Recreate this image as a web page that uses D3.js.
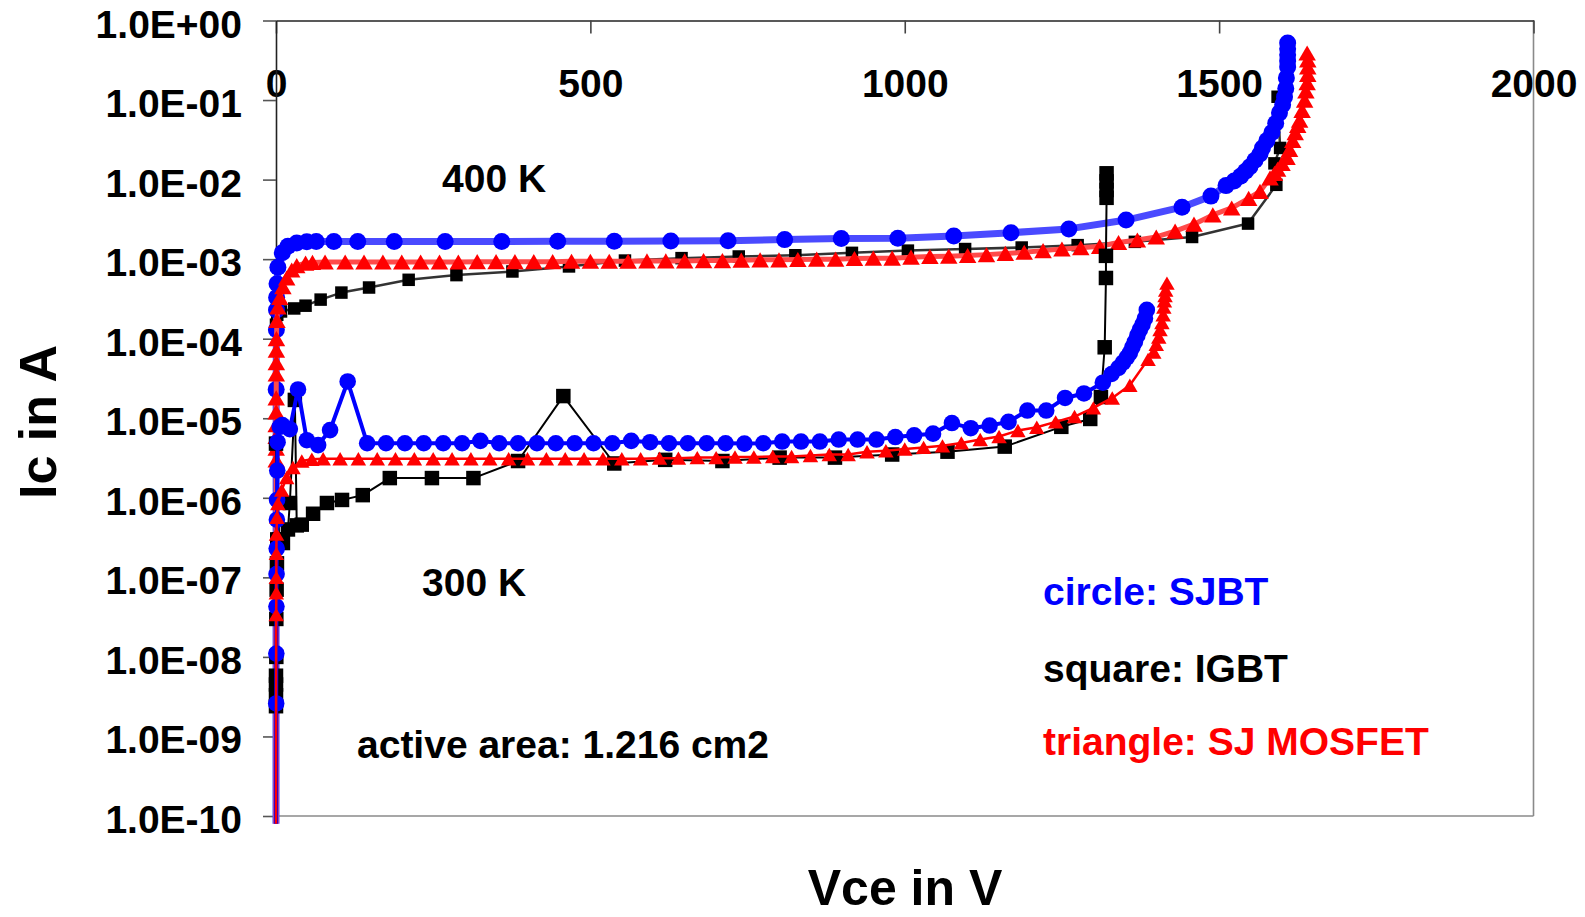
<!DOCTYPE html>
<html>
<head>
<meta charset="utf-8">
<script src="https://cdn.jsdelivr.net/npm/d3@7"></script>
<style>
  html, body { margin: 0; padding: 0; background: #fff; }
  svg { display: block; }
  text { font-family: "Liberation Sans", Arial, sans-serif; font-weight: bold; }
</style>
</head>
<body>
<svg id="chart" width="1585" height="917"></svg>
<script>
// ---------------- DATA ----------------
const xTicks = [0, 500, 1000, 1500, 2000];
const yTicks = [1, 1e-1, 1e-2, 1e-3, 1e-4, 1e-5, 1e-6, 1e-7, 1e-8, 1e-9, 1e-10];
const yTickLabels = ["1.0E+00","1.0E-01","1.0E-02","1.0E-03","1.0E-04","1.0E-05","1.0E-06","1.0E-07","1.0E-08","1.0E-09","1.0E-10"];

// [Vce (V), Ic (A)]
const sjbt400 = [[0,8e-11],[0.3,2.3e-5],[0.6,1.3e-4],[0.8,2.3e-4],[1,3.3e-4],[1.6,4.9e-4],[3,7.9e-4],[10,1.2e-3],[19,1.45e-3],[33,1.6e-3],[49,1.65e-3],[64,1.67e-3],[92,1.67e-3],[130,1.67e-3],[188,1.67e-3],[269,1.67e-3],[359,1.67e-3],[448,1.68e-3],[538,1.68e-3],[628,1.69e-3],[719,1.7e-3],[809,1.76e-3],[899,1.82e-3],[989,1.83e-3],[1078,1.95e-3],[1169,2.15e-3],[1261,2.4e-3],[1352,3.1e-3],[1441,4.5e-3],[1487,6.2e-3],[1511,8.4e-3],[1524,9.6e-3],[1534,1.1e-2],[1542,1.27e-2],[1549,1.45e-2],[1557,1.75e-2],[1565,2.1e-2],[1569,2.5e-2],[1576,3.1e-2],[1584,3.9e-2],[1590,5.1e-2],[1596,6.9e-2],[1601,8.7e-2],[1604,0.109],[1606,0.14],[1607,0.19],[1609,0.26],[1609,0.31],[1609,0.37],[1609,0.44],[1609,0.52]];

const mos400 = [[0,8e-11],[0.3,3.0e-6],[0.3,4.2e-6],[0.3,5.9e-6],[0.3,8.3e-6],[0.3,1.2e-5],[0.3,1.8e-5],[0.5,3.6e-5],[0.5,5e-5],[0.6,7.2e-5],[0.7,1.0e-4],[1.5,1.7e-4],[3,2.5e-4],[6,3.3e-4],[11,4.5e-4],[17,5.8e-4],[25,7.3e-4],[33,8.3e-4],[47,8.9e-4],[58,9.1e-4],[78,9.2e-4],[110,9.2e-4],[140,9.2e-4],[170,9.2e-4],[200,9.2e-4],[230,9.2e-4],[260,9.2e-4],[290,9.2e-4],[320,9.3e-4],[350,9.3e-4],[380,9.3e-4],[410,9.3e-4],[440,9.3e-4],[470,9.4e-4],[500,9.4e-4],[530,9.4e-4],[560,9.4e-4],[590,9.5e-4],[620,9.5e-4],[650,9.5e-4],[680,9.6e-4],[710,9.6e-4],[740,9.7e-4],[770,9.8e-4],[800,9.8e-4],[830,9.9e-4],[860,1.0e-3],[890,1.0e-3],[920,1.02e-3],[950,1.03e-3],[980,1.03e-3],[1010,1.06e-3],[1040,1.08e-3],[1070,1.09e-3],[1100,1.11e-3],[1130,1.14e-3],[1160,1.18e-3],[1190,1.22e-3],[1220,1.28e-3],[1250,1.34e-3],[1280,1.39e-3],[1310,1.45e-3],[1340,1.62e-3],[1370,1.74e-3],[1400,1.9e-3],[1430,2.25e-3],[1460,2.75e-3],[1490,3.6e-3],[1520,4.4e-3],[1547,5.8e-3],[1565,7.1e-3],[1581,1.05e-2],[1588,1.2e-2],[1593,1.35e-2],[1600,1.6e-2],[1608,1.9e-2],[1612,2.4e-2],[1617,3.1e-2],[1621,3.9e-2],[1625,4.8e-2],[1628,5.6e-2],[1632,7.4e-2],[1636,0.1],[1638,0.13],[1640,0.165],[1641,0.21],[1641,0.26],[1641,0.32],[1640,0.39]];

const igbt400 = [[0,1.5e-4],[2,2.0e-4],[8,2.2e-4],[29,2.4e-4],[47,2.6e-4],[71,3.1e-4],[104,3.8e-4],[148,4.4e-4],[211,5.5e-4],[287,6.3e-4],[376,7.0e-4],[466,8.1e-4],[555,9.6e-4],[645,1.03e-3],[736,1.08e-3],[826,1.12e-3],[916,1.2e-3],[1005,1.28e-3],[1096,1.34e-3],[1186,1.4e-3],[1275,1.5e-3],[1366,1.65e-3],[1457,1.9e-3],[1546,2.8e-3],[1591,8.6e-3],[1588,1.6e-2],[1597,2.5e-2],[1593,0.11]];

const sjbt300 = [[0,8e-11],[0.3,2.6e-9],[0.5,1.1e-8],[0.7,4.3e-8],[0.9,1.1e-7],[1.1,2.3e-7],[1.4,5.3e-7],[1.7,9.4e-7],[2,2.2e-6],[2.5,5e-6],[6,7.8e-6],[10,8.2e-6],[22,7.3e-6],[35,2.3e-5],[49,5.3e-6],[67,4.6e-6],[86,7.1e-6],[114,2.9e-5],[145,4.85e-6],[175,4.85e-6],[205,4.85e-6],[235,4.85e-6],[266,4.85e-6],[296,4.85e-6],[325,5.2e-6],[355,4.85e-6],[385,4.85e-6],[415,4.85e-6],[445,4.85e-6],[475,4.85e-6],[505,4.85e-6],[535,4.85e-6],[565,5.2e-6],[595,5.0e-6],[625,4.85e-6],[655,4.85e-6],[685,4.85e-6],[715,4.85e-6],[745,4.8e-6],[775,4.85e-6],[805,5.1e-6],[835,5.1e-6],[865,5.1e-6],[895,5.4e-6],[925,5.4e-6],[955,5.4e-6],[985,5.8e-6],[1015,6.1e-6],[1045,6.4e-6],[1075,8.7e-6],[1105,7.5e-6],[1135,8.1e-6],[1165,9.0e-6],[1195,1.25e-5],[1225,1.25e-5],[1255,1.8e-5],[1285,2.05e-5],[1315,2.8e-5],[1329,3.6e-5],[1340,4.3e-5],[1347,5.0e-5],[1353,5.8e-5],[1358,6.6e-5],[1362,7.8e-5],[1366,9.1e-5],[1370,1.1e-4],[1374,1.3e-4],[1378,1.5e-4],[1382,1.8e-4],[1385,2.3e-4]];

const igbt300 = [[0,2.4e-9],[0,3.3e-9],[0,4.5e-9],[0,5.8e-9],[0.5,1.0e-8],[0.5,3e-8],[1,7e-8],[1.5,1.5e-7],[2,3e-7],[0,4.8e-6],[5,3e-7],[11,2.7e-7],[19,4e-7],[22,8.6e-7],[30,1.7e-5],[33,4.5e-7],[41,4.6e-7],[59,6.3e-7],[81,8.6e-7],[105,9.4e-7],[138,1.08e-6],[181,1.77e-6],[248,1.77e-6],[314,1.77e-6],[385,2.9e-6],[457,1.9e-5],[538,2.7e-6],[619,3.0e-6],[710,2.9e-6],[801,3.2e-6],[889,3.2e-6],[980,3.5e-6],[1068,3.8e-6],[1159,4.4e-6],[1249,7.8e-6],[1295,9.8e-6],[1312,1.85e-5],[1318,7.8e-5],[1320,5.8e-4],[1320,1.1e-3],[1321,5.9e-3],[1321,7.4e-3],[1321,9.5e-3],[1321,1.2e-2]];

const mos300 = [[0,8e-11],[0.3,3.4e-8],[0.5,6.4e-8],[0.5,1.0e-7],[0.6,2.0e-7],[0.8,3.5e-7],[1.5,5.7e-7],[3,8.5e-7],[9,1.25e-6],[17,1.8e-6],[27,2.4e-6],[41,2.9e-6],[57,3.05e-6],[75,3.1e-6],[102,3.1e-6],[131,3.1e-6],[161,3.1e-6],[190,3.1e-6],[220,3.1e-6],[250,3.1e-6],[280,3.1e-6],[310,3.1e-6],[340,3.1e-6],[370,3.1e-6],[400,3.1e-6],[430,3.1e-6],[460,3.1e-6],[490,3.1e-6],[520,3.1e-6],[550,3.1e-6],[580,3.1e-6],[610,3.15e-6],[640,3.15e-6],[670,3.2e-6],[700,3.2e-6],[730,3.25e-6],[760,3.25e-6],[790,3.3e-6],[820,3.3e-6],[850,3.4e-6],[880,3.5e-6],[910,3.5e-6],[940,3.8e-6],[970,3.9e-6],[1000,4.1e-6],[1030,4.3e-6],[1060,4.5e-6],[1090,4.9e-6],[1120,5.4e-6],[1150,5.9e-6],[1180,7.0e-6],[1210,7.7e-6],[1240,9.0e-6],[1270,1.05e-5],[1300,1.35e-5],[1330,1.8e-5],[1358,2.6e-5],[1387,5.5e-5],[1396,6.8e-5],[1400,8.5e-5],[1404,1.05e-4],[1406,1.3e-4],[1409,1.6e-4],[1411,2.0e-4],[1412,2.5e-4],[1413,3.0e-4],[1414,3.5e-4],[1415,4.1e-4],[1417,5.0e-4]];

const annotations = [
  { text: "400 K", x: 442, y: 192, color: "#000" },
  { text: "300 K", x: 422, y: 596, color: "#000" },
  { text: "active area: 1.216 cm2", x: 357, y: 758, color: "#000" }
];
const legendItems = [
  { text: "circle: SJBT", y: 605, color: "#0000ff" },
  { text: "square: IGBT", y: 682, color: "#000000" },
  { text: "triangle: SJ MOSFET", y: 755, color: "#ff0000" }
];

// ---------------- LAYOUT ----------------
const L = 276, R = 1533.5, T = 20.5, B = 816;
const svg = d3.select("#chart");
svg.append("rect").attr("width", 1585).attr("height", 917).attr("fill", "#fff");

const x = d3.scaleLinear().domain([0, 2000]).range([L, R]);
const y = d3.scaleLog().domain([1e-10, 1]).range([B, T]);

// frame
svg.append("line").attr("x1", R).attr("x2", R).attr("y1", T).attr("y2", B).attr("stroke", "#8a8a8a").attr("stroke-width", 1.6);
svg.append("line").attr("x1", L).attr("x2", R).attr("y1", B).attr("y2", B).attr("stroke", "#8a8a8a").attr("stroke-width", 1.6);

// x axis (top, labels inside)
const xAxis = svg.append("g").attr("transform", `translate(0,${T})`)
  .call(d3.axisTop(x).tickValues(xTicks).tickSizeInner(-13).tickSizeOuter(0).tickFormat(d3.format("d")));
xAxis.select(".domain").attr("stroke", "#222").attr("stroke-width", 1.6);
xAxis.selectAll(".tick line").attr("stroke", "#444").attr("stroke-width", 1.6);
xAxis.selectAll(".tick text").attr("y", 76.5).attr("dy", 0)
  .style("font-size", "39px").style("font-family", "'Liberation Sans', Arial, sans-serif").style("font-weight", "bold").attr("fill", "#000");

// y axis (left)
const yAxis = svg.append("g").attr("transform", `translate(${L},0)`)
  .call(d3.axisLeft(y).tickValues(yTicks).tickSizeInner(13).tickSizeOuter(0).tickPadding(21)
    .tickFormat((d, i) => yTickLabels[i]));
yAxis.select(".domain").attr("stroke", "#222").attr("stroke-width", 1.6);
yAxis.selectAll(".tick line").attr("stroke", "#555").attr("stroke-width", 1.6);
yAxis.selectAll(".tick text").attr("dy", 0).attr("y", 16.5)
  .style("font-size", "39px").style("font-family", "'Liberation Sans', Arial, sans-serif").style("font-weight", "bold").attr("fill", "#000");

// axis titles
svg.append("text").attr("transform", "translate(56,422) rotate(-90)").attr("text-anchor", "middle")
  .style("font-size", "52px").text("Ic in A");
svg.append("text").attr("x", 905).attr("y", 905).attr("text-anchor", "middle")
  .style("font-size", "50px").text("Vce in V");

// ---------------- SERIES ----------------
const plot = svg.append("g");
const line = d3.line().x(d => x(d[0])).y(d => y(d[1]));

function drawSeries(data, o) {
  plot.append("path").datum(data).attr("d", line).attr("fill", "none")
    .attr("stroke", o.lineColor).attr("stroke-width", o.lineWidth).attr("stroke-linejoin", "round");
  let sym, off = 0;
  if (o.shape === "circle") sym = d3.symbol(d3.symbolCircle, Math.PI * o.r * o.r);
  else if (o.shape === "square") sym = d3.symbol(d3.symbolSquare, o.side * o.side);
  else {
    const s = o.w * o.w * Math.sqrt(3) / 4;
    sym = d3.symbol(d3.symbolTriangle, s);
    off = Math.sqrt(s / (3 * Math.sqrt(3))) / 2;
  }
  plot.append("g").selectAll("path").data(data.filter(d => d[1] >= 1e-10)).join("path")
    .attr("d", sym)
    .attr("transform", d => `translate(${x(d[0])},${y(d[1]) + off})`)
    .attr("fill", o.fill);
}

drawSeries(igbt400, { lineColor: "#333", lineWidth: 2.5, shape: "square", side: 12.5, fill: "#000" });
drawSeries(sjbt400, { lineColor: "#4a4aff", lineWidth: 7, shape: "circle", r: 8.5, fill: "#0000ff" });
drawSeries(mos400, { lineColor: "#ff4a4a", lineWidth: 5, shape: "triangle", w: 17.5, fill: "#ff0000" });
drawSeries(igbt300, { lineColor: "#000", lineWidth: 2, shape: "square", side: 14.5, fill: "#000" });
drawSeries(sjbt300, { lineColor: "#0000ff", lineWidth: 4, shape: "circle", r: 8.3, fill: "#0000ff" });
drawSeries(mos300, { lineColor: "#ff0000", lineWidth: 2.5, shape: "triangle", w: 15.5, fill: "#ff0000" });

// ---------------- TEXT ----------------
svg.selectAll("text.note").data(annotations).join("text").attr("class", "note")
  .attr("x", d => d.x).attr("y", d => d.y).attr("fill", d => d.color)
  .style("font-size", "39px").text(d => d.text);
svg.selectAll("text.legend").data(legendItems).join("text").attr("class", "legend")
  .attr("x", 1043).attr("y", d => d.y).attr("fill", d => d.color)
  .style("font-size", "39px").text(d => d.text);
</script>
</body>
</html>
